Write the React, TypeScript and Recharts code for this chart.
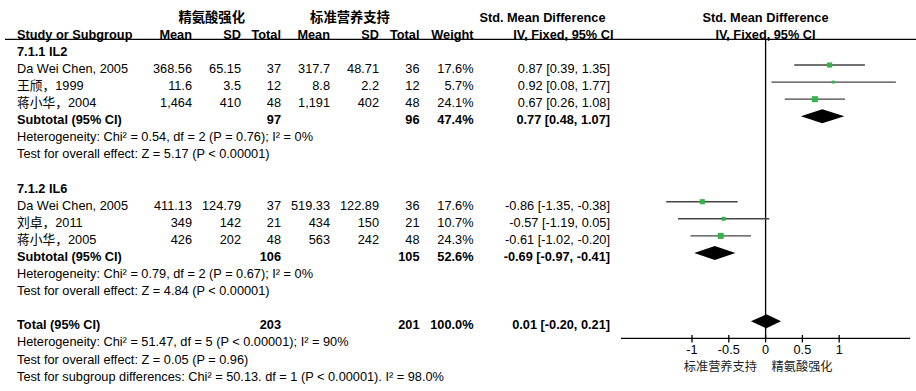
import React from 'react';
import { ScatterChart, Scatter, XAxis, YAxis, ReferenceLine, ReferenceArea } from 'recharts';

// ---------------- data ----------------
const subgroupLabels = ['7.1.1 IL2', '7.1.2 IL6'];
const studyNames = ['Da Wei Chen, 2005', '王颀，1999', '蒋小华，2004', 'Da Wei Chen, 2005', '刘卓，2011', '蒋小华，2005'];
const studySubgroup = [0, 0, 0, 1, 1, 1];
const expMean = ['368.56', '11.6', '1,464', '411.13', '349', '426'];
const expSD = ['65.15', '3.5', '410', '124.79', '142', '202'];
const expTotal = [37, 12, 48, 37, 21, 48];
const ctlMean = ['317.7', '8.8', '1,191', '519.33', '434', '563'];
const ctlSD = ['48.71', '2.2', '402', '122.89', '150', '242'];
const ctlTotal = [36, 12, 48, 36, 21, 48];
const studyWeight = [17.6, 5.7, 24.1, 17.6, 10.7, 24.3];
const studySmd = [0.87, 0.92, 0.67, -0.86, -0.57, -0.61];
const studyLow = [0.39, 0.08, 0.26, -1.35, -1.19, -1.02];
const studyHigh = [1.35, 1.77, 1.08, -0.38, 0.05, -0.2];

const subgroupExpTotal = [97, 106];
const subgroupCtlTotal = [96, 105];
const subgroupWeight = [47.4, 52.6];
const subgroupSmd = [0.77, -0.69];
const subgroupLow = [0.48, -0.97];
const subgroupHigh = [1.07, -0.41];
const subgroupHeterogeneity = [
  'Heterogeneity: Chi² = 0.54, df = 2 (P = 0.76); I² = 0%',
  'Heterogeneity: Chi² = 0.79, df = 2 (P = 0.67); I² = 0%',
];
const subgroupOverallTest = [
  'Test for overall effect: Z = 5.17 (P < 0.00001)',
  'Test for overall effect: Z = 4.84 (P < 0.00001)',
];

const totalLabel = 'Total (95% CI)';
const totalExp = 203;
const totalCtl = 201;
const totalWeight = 100.0;
const totalSmd = 0.01;
const totalLow = -0.2;
const totalHigh = 0.21;
const totalNotes = [
  'Heterogeneity: Chi² = 51.47, df = 5 (P < 0.00001); I² = 90%',
  'Test for overall effect: Z = 0.05 (P = 0.96)',
  'Test for subgroup differences: Chi² = 50.13. df = 1 (P < 0.00001). I² = 98.0%',
];

const groupHeaders = ['精氨酸强化', '标准营养支持'];
const columnHeaders = ['Study or Subgroup', 'Mean', 'SD', 'Total', 'Mean', 'SD', 'Total', 'Weight', 'IV, Fixed, 95% CI'];
const effectTitle = 'Std. Mean Difference';
const effectSubtitle = 'IV, Fixed, 95% CI';
const axisTicks = [-1, -0.5, 0, 0.5, 1];
const favoursLabels = ['标准营养支持', '精氨酸强化'];

// ---------------- layout ----------------
const W = 916;
const H = 391;
const ROW0 = 47.9; // pixel of row 0
const ROWH = 17.09; // pixels per row
const TEXT_DY = 8;
const PLOT_LEFT = 621;
const PLOT_RIGHT = 910.2;
const X_DOMAIN: [number, number] = [-1.965, 1.965];
const Y_DOMAIN: [number, number] = [-0.5, 17];
const XAXIS_H = 30;
const DIAMOND_HALF = 0.41;
const FONT = "'Liberation Sans', Arial, 'Noto Sans CJK SC', sans-serif";
const CJK = "'Noto Sans CJK SC', sans-serif";
const FS = 12.75;

const COL_X = [17, 192, 241, 281, 330, 379, 419.5, 473.5, 610];
const COL_ANCHOR: ('start' | 'end' | 'middle')[] = ['start', 'end', 'end', 'end', 'end', 'end', 'end', 'end', 'end'];

type Cell = { text: string; x: number; anchor: 'start' | 'middle' | 'end'; bold?: boolean; cjk?: boolean; size?: number };
type TextRow = { x: number; y: number; cells: Cell[] };

const f2 = (v: number) => v.toFixed(2);
const ciText = (e: number, l: number, h: number) => `${f2(e)} [${f2(l)}, ${f2(h)}]`;
const pct = (w: number) => `${w.toFixed(1)}%`;

const rowCells = (vals: string[], bold = false): Cell[] =>
  vals
    .map((t, i) => ({ text: t, x: COL_X[i], anchor: COL_ANCHOR[i], bold }))
    .filter((c) => c.text !== '');

const textRows: TextRow[] = [];
const studyPoints: { x: number; y: number; lo: number; hi: number; w: number }[] = [];
const diamonds: { y: number; est: number; lo: number; hi: number }[] = [];

// header rows
textRows.push({
  x: 0.5,
  y: -2,
  cells: [
    { text: groupHeaders[0], x: 211.7, anchor: 'middle', bold: true, cjk: true, size: 13.3 },
    { text: groupHeaders[1], x: 350, anchor: 'middle', bold: true, cjk: true, size: 13.3 },
    { text: effectTitle, x: 605.5, anchor: 'end', bold: true },
    { text: effectTitle, x: 765.5, anchor: 'middle', bold: true },
  ],
});
textRows.push({
  x: 0.5,
  y: -1,
  cells: [
    ...columnHeaders.map((t, i) => ({
      text: t,
      x: i === columnHeaders.length - 1 ? 613.5 : COL_X[i],
      anchor: COL_ANCHOR[i],
      bold: true,
    })),
    { text: effectSubtitle, x: 765.5, anchor: 'middle', bold: true },
  ],
});

let r = 0;
subgroupLabels.forEach((label, g) => {
  textRows.push({ x: 0.5, y: r++, cells: rowCells([label], true) });
  studyNames.forEach((name, i) => {
    if (studySubgroup[i] !== g) return;
    textRows.push({
      x: 0.5,
      y: r,
      cells: rowCells([
        name,
        expMean[i],
        expSD[i],
        String(expTotal[i]),
        ctlMean[i],
        ctlSD[i],
        String(ctlTotal[i]),
        pct(studyWeight[i]),
        ciText(studySmd[i], studyLow[i], studyHigh[i]),
      ]),
    });
    studyPoints.push({ x: studySmd[i], y: r, lo: studyLow[i], hi: studyHigh[i], w: studyWeight[i] });
    r++;
  });
  textRows.push({
    x: 0.5,
    y: r,
    cells: rowCells(
      ['Subtotal (95% CI)', '', '', String(subgroupExpTotal[g]), '', '', String(subgroupCtlTotal[g]), pct(subgroupWeight[g]), ciText(subgroupSmd[g], subgroupLow[g], subgroupHigh[g])],
      true
    ),
  });
  diamonds.push({ y: r, est: subgroupSmd[g], lo: subgroupLow[g], hi: subgroupHigh[g] });
  r++;
  textRows.push({ x: 0.5, y: r++, cells: rowCells([subgroupHeterogeneity[g]]) });
  textRows.push({ x: 0.5, y: r++, cells: rowCells([subgroupOverallTest[g]]) });
  r++;
});
textRows.push({
  x: 0.5,
  y: r,
  cells: rowCells(
    [totalLabel, '', '', String(totalExp), '', '', String(totalCtl), pct(totalWeight), ciText(totalSmd, totalLow, totalHigh)],
    true
  ),
});
diamonds.push({ y: r, est: totalSmd, lo: totalLow, hi: totalHigh });
r++;
totalNotes.forEach((n) => textRows.push({ x: 0.5, y: r++, cells: rowCells([n]) }));

const TEXT_Y_DOMAIN: [number, number] = [-ROW0 / ROWH, (H - ROW0) / ROWH];
const plotTop = ROW0 + Y_DOMAIN[0] * ROWH;
const plotBottom = ROW0 + Y_DOMAIN[1] * ROWH;

// ---------------- shapes ----------------
const TextRowShape = (props: any) => {
  const { cy, payload } = props;
  const base = cy + TEXT_DY;
  return (
    <g>
      {payload.cells.map((c: Cell, i: number) => (
        <text
          key={i}
          x={c.x}
          y={base}
          textAnchor={c.anchor}
          fontFamily={c.cjk ? CJK : FONT}
          fontSize={c.size ?? FS}
          fontWeight={c.bold ? 700 : 400}
          fill="#000"
        >
          {c.text}
        </text>
      ))}
    </g>
  );
};

const SquareShape = (props: any) => {
  const { cx, cy, payload } = props;
  const s = 1.22 * Math.sqrt(payload.w);
  return <rect x={cx - s / 2} y={cy - s / 2} width={s} height={s} fill="#34b34a" />;
};

const makeDiamond = (d: { est: number; lo: number; hi: number }) => (props: any) => {
  const { x, y, width, height } = props;
  const xe = x + (width * (d.est - d.lo)) / (d.hi - d.lo);
  const pts = `${x},${y + height / 2} ${xe},${y} ${x + width},${y + height / 2} ${xe},${y + height}`;
  return <polygon points={pts} fill="#000" stroke="none" />;
};

const AxisTick = (props: any) => {
  const { x, y, payload } = props;
  return (
    <g>
      <line x1={x} x2={x} y1={y - 3.5} y2={y + 4} stroke="#000" strokeWidth={1.3} />
      <text x={x} y={y + 16} textAnchor="middle" fontFamily={FONT} fontSize={12.7} fill="#000">
        {String(payload.value)}
      </text>
    </g>
  );
};

const FavoursShape = (props: any) => {
  const { cx, cy } = props;
  return (
    <g>
      <text x={cx - 8.7} y={cy + 33} textAnchor="end" fontFamily={CJK} fontSize={12.2} fill="#222">
        {favoursLabels[0]}
      </text>
      <text x={cx + 6} y={cy + 33} textAnchor="start" fontFamily={CJK} fontSize={12.2} fill="#222">
        {favoursLabels[1]}
      </text>
    </g>
  );
};

export default function App() {
  return (
    <div style={{ position: 'absolute', left: 0, top: 0, width: W, height: H, background: '#fff' }}>
      <div style={{ position: 'absolute', left: 0, top: 0 }}>
        <ScatterChart
          width={W}
          height={H}
          margin={{ top: plotTop, right: W - PLOT_RIGHT, bottom: H - plotBottom - XAXIS_H, left: PLOT_LEFT }}
        >
          <XAxis
            type="number"
            dataKey="x"
            domain={X_DOMAIN}
            ticks={axisTicks}
            interval={0}
            height={XAXIS_H}
            axisLine={{ stroke: '#000', strokeWidth: 1.3 }}
            tickLine={false}
            tickSize={0}
            tickMargin={0}
            tick={<AxisTick />}
          />
          <YAxis type="number" dataKey="y" domain={Y_DOMAIN} reversed hide />
          <ReferenceLine x={0} stroke="#000" strokeWidth={1.3} />
          {studyPoints.map((p, i) => (
            <ReferenceLine
              key={`ci${i}`}
              segment={[
                { x: p.lo, y: p.y },
                { x: p.hi, y: p.y },
              ]}
              stroke="#444"
              strokeWidth={1.4}
            />
          ))}
          {diamonds.map((d, i) => (
            <ReferenceArea
              key={`dm${i}`}
              x1={d.lo}
              x2={d.hi}
              y1={d.y - DIAMOND_HALF}
              y2={d.y + DIAMOND_HALF}
              shape={makeDiamond(d)}
            />
          ))}
          <Scatter data={studyPoints} shape={SquareShape} isAnimationActive={false} />
          <Scatter data={[{ x: 0, y: Y_DOMAIN[1] }]} shape={FavoursShape} isAnimationActive={false} />
        </ScatterChart>
      </div>
      <div style={{ position: 'absolute', left: 0, top: 0, pointerEvents: 'none' }}>
        <ScatterChart width={W} height={H} margin={{ top: 0, right: 0, bottom: 0, left: 5 }}>
          <XAxis type="number" dataKey="x" domain={[0, 1]} hide />
          <YAxis type="number" dataKey="y" domain={TEXT_Y_DOMAIN} reversed hide />
          <ReferenceLine y={Y_DOMAIN[0]} stroke="#000" strokeWidth={1.3} />
          <Scatter data={textRows} shape={TextRowShape} isAnimationActive={false} />
        </ScatterChart>
      </div>
    </div>
  );
}
